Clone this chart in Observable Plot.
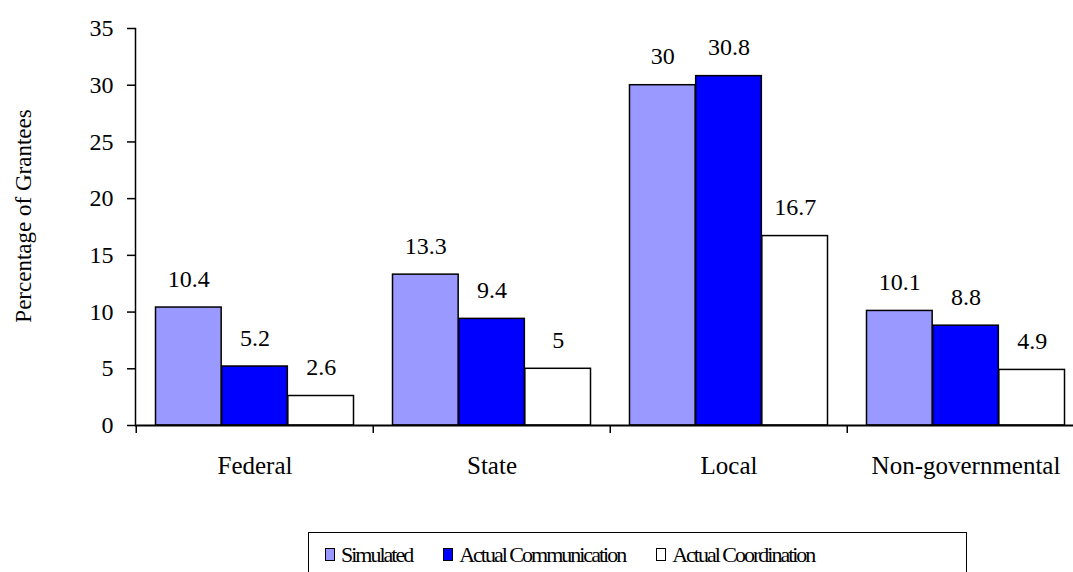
<!DOCTYPE html>
<html>
<head>
<meta charset="utf-8">
<script src="https://cdn.jsdelivr.net/npm/d3@7"></script>
<script src="https://cdn.jsdelivr.net/npm/@observablehq/plot@0.6"></script>
<style>
  body { margin: 0; background: #fff; font-family: 'Liberation Serif'; }
  #chart { position: relative; width: 1073px; height: 572px; overflow: hidden; }
  #legend {
    position: absolute; left: 308px; top: 532px; width: 659px; height: 46px;
    border: 1.5px solid #000; box-sizing: border-box;
    display: flex; align-items: center; padding-left: 16px; gap: 31px;
    padding-bottom: 1px; font-family: 'Liberation Serif'; font-size: 22px; letter-spacing: -2px;
  }
  .item { display: flex; align-items: center; gap: 6px; }
  .sw { width: 10px; height: 13px; border: 1.5px solid #000; box-sizing: border-box; }
  svg text { font-family: 'Liberation Serif' !important; }
</style>
</head>
<body>
<div id="chart"></div>
<script>
const categories = ["Federal", "State", "Local", "Non-governmental"];
const seriesNames = ["Simulated", "Actual Communication", "Actual Coordination"];
const simulated = [10.4, 13.3, 30, 10.1];
const communication = [5.2, 9.4, 30.8, 8.8];
const coordination = [2.6, 5, 16.7, 4.9];
const yTicks = [0, 5, 10, 15, 20, 25, 30, 35];
const colors = ["#9999FF", "#0000FF", "#FFFFFF"];

const seriesValues = [simulated, communication, coordination];
const font = "Liberation Serif";

const xRange = [135, 1085];
const step = (xRange[1] - xRange[0]) / categories.length;
const groupPad = 19.5;
const barW = (step - 2 * groupPad) / seriesNames.length;

const marks = [];
seriesValues.forEach((vals, i) => {
  const rows = categories.map((c, j) => ({category: c, value: vals[j]}));
  const left = groupPad + barW * i;
  const right = step - left - barW;
  marks.push(Plot.barY(rows, {
    x: "category", y: "value", fill: colors[i], stroke: "#000", strokeWidth: 1.5,
    insetLeft: left, insetRight: right
  }));
  marks.push(Plot.text(rows, {
    x: "category", y: "value", text: d => String(d.value),
    dx: -step / 2 + left + barW / 2, dy: -21, lineAnchor: "bottom",
    fontSize: 24, fill: "#000", fontFamily: font
  }));
});

const plot = Plot.plot({
  width: 1073,
  height: 500,
  marginTop: 28,
  marginBottom: 75,
  marginLeft: 135,
  marginRight: 0,
  style: {fontFamily: font, fontSize: "24px", color: "#000", background: "#fff"},
  x: {domain: categories, range: xRange, padding: 0},
  y: {domain: [0, 35], range: [425, 28]},
  marks: [
    Plot.axisY({ticks: yTicks, tickSize: 8, tickPadding: 14, label: null, fontSize: 24, fontFamily: font, strokeWidth: 1.5}),
    Plot.text(["Percentage of Grantees"], {
      frameAnchor: "left", textAnchor: "middle", dx: -112, dy: -11, rotate: -90,
      fontSize: 23, fill: "#000", fontFamily: font
    }),
    Plot.axisX({tickSize: 0, tickPadding: 31, label: null, fontSize: 25, fontFamily: font, lineAnchor: "top"}),
    Plot.axisX({text: null, tickSize: 8, dx: -step / 2, strokeWidth: 1.5, label: null}),
    ...marks,
    Plot.frame({anchor: "left", strokeWidth: 1.5}),
    Plot.ruleY([0], {strokeWidth: 2})
  ]
});

const chart = document.getElementById("chart");
chart.appendChild(plot);

const legend = document.createElement("div");
legend.id = "legend";
seriesNames.forEach((name, i) => {
  const item = document.createElement("div");
  item.className = "item";
  const sw = document.createElement("div");
  sw.className = "sw";
  sw.style.background = colors[i];
  const label = document.createElement("span");
  label.textContent = name;
  item.appendChild(sw);
  item.appendChild(label);
  legend.appendChild(item);
});
chart.appendChild(legend);
</script>
</body>
</html>
